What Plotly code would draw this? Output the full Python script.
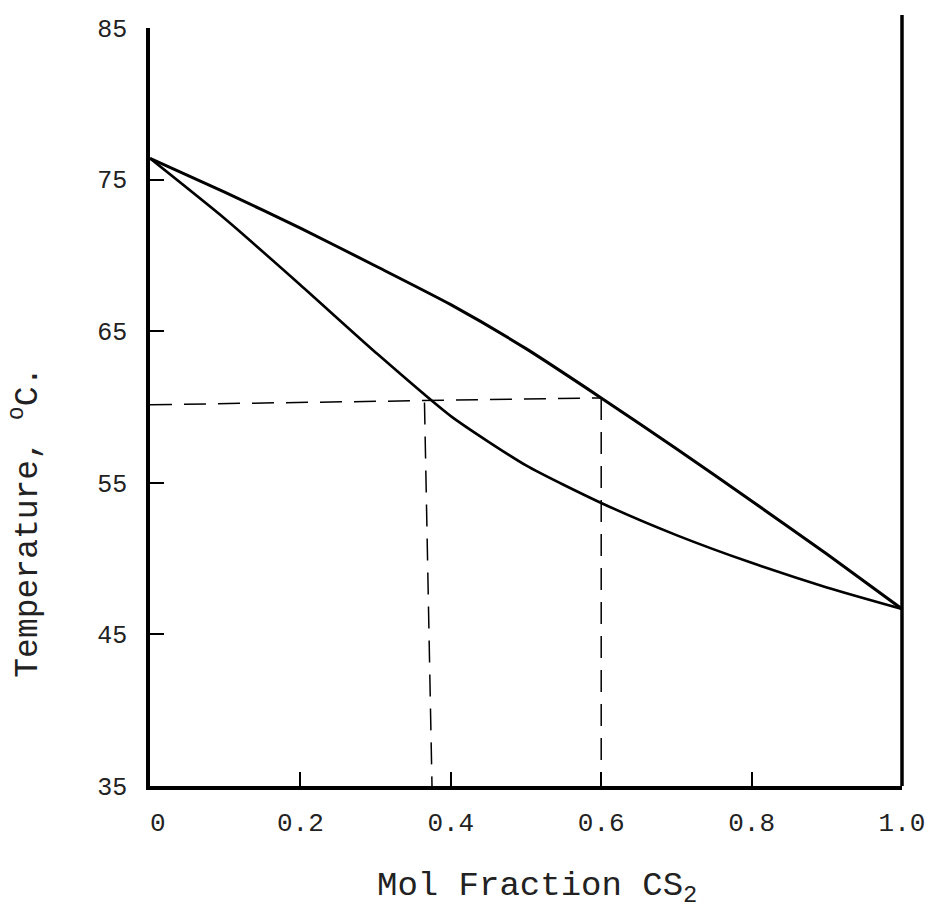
import plotly.graph_objects as go

# Vapor (dew-point) curve
vapor_x = [0, 0.1, 0.2, 0.3, 0.4, 0.5, 0.6, 0.7, 0.8, 0.9, 1.0]
vapor_T = [76.4, 74.15, 71.8, 69.3, 66.75, 63.85, 60.6, 57.25, 53.8, 50.3, 46.68]

# Liquid (bubble-point) curve
liquid_x = [0, 0.1, 0.2, 0.3, 0.4, 0.5, 0.6, 0.7, 0.8, 0.9, 1.0]
liquid_T = [76.4, 72.4, 68.05, 63.6, 59.4, 56.15, 53.67, 51.55, 49.72, 48.1, 46.68]

# Dashed construction lines
tie_x = [0, 0.6]
tie_T = [60.15, 60.6]
liq_drop_x = [0.365, 0.375]
liq_drop_T = [60.3, 35]
vap_drop_x = [0.6, 0.6]
vap_drop_T = [60.6, 35]

x_ticks = [0, 0.2, 0.4, 0.6, 0.8, 1.0]
x_ticklabels = [" 0", "0.2", "0.4", "0.6", "0.8", "1.0"]
y_ticks = [35, 45, 55, 65, 75, 85]
y_ticklabels = ["35", "45", "55", "65", "75", "85"]

FONT = "Liberation Mono"
TXT = "#222222"

fig = go.Figure()
dash = "22px,12px"
for xs, ys in [(tie_x, tie_T), (liq_drop_x, liq_drop_T), (vap_drop_x, vap_drop_T)]:
    fig.add_trace(go.Scatter(x=xs, y=ys, mode="lines",
                             line=dict(color="black", width=1.5, dash=dash),
                             hoverinfo="skip", showlegend=False))
fig.add_trace(go.Scatter(x=vapor_x, y=vapor_T, mode="lines",
                         line=dict(color="black", width=3, shape="spline", smoothing=0.6),
                         showlegend=False, name="Vapor"))
fig.add_trace(go.Scatter(x=liquid_x, y=liquid_T, mode="lines",
                         line=dict(color="black", width=2.6, shape="spline", smoothing=0.6),
                         showlegend=False, name="Liquid"))

fig.update_layout(
    width=937, height=918,
    margin=dict(l=150, r=32, t=28, b=132),
    paper_bgcolor="white", plot_bgcolor="white",
    font=dict(family=FONT, color=TXT),
    xaxis=dict(range=[0, 1], showgrid=False, zeroline=False,
               showline=True, linewidth=3.5, linecolor="black",
               ticks="inside", ticklen=14, tickwidth=1.5, tickcolor="black",
               tickvals=x_ticks, ticktext=x_ticklabels,
               tickfont=dict(family=FONT, size=26, color=TXT),
               ticklabelstandoff=10),
    yaxis=dict(range=[35, 85], showgrid=False, zeroline=False,
               showline=True, linewidth=3.5, linecolor="black",
               ticks="inside", ticklen=14, tickwidth=1.5, tickcolor="black",
               tickvals=y_ticks, ticktext=y_ticklabels,
               tickfont=dict(family=FONT, size=25, color=TXT),
               ticklabelstandoff=14),
    shapes=[dict(type="line", xref="paper", yref="paper",
                 x0=1, x1=1, y0=0, y1=1.017,
                 line=dict(color="black", width=3.5))],
    annotations=[
        dict(text="Mol Fraction CS<sub>2</sub>", xref="paper", yref="paper",
             x=0.515, y=-0.1346, showarrow=False, xanchor="center", yanchor="middle",
             font=dict(family=FONT, size=34, color=TXT)),
        dict(text="Temperature, <sup>o</sup>C.", xref="paper", yref="paper",
             x=-0.1656, y=0.348, showarrow=False, textangle=-90,
             xanchor="center", yanchor="middle",
             font=dict(family=FONT, size=33, color=TXT)),
    ],
)

fig.write_html("out.html")
